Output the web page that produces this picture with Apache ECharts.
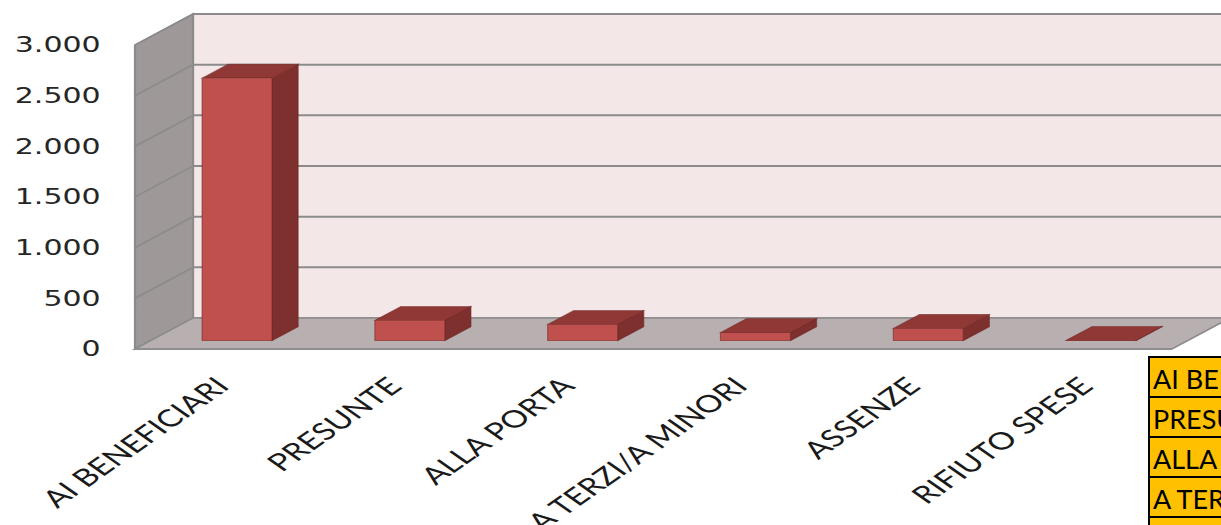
<!DOCTYPE html>
<html><head><meta charset="utf-8">
<script src="https://cdn.jsdelivr.net/npm/echarts@6/dist/echarts.min.js"></script>
<style>
html,body{margin:0;padding:0;background:#fff;overflow:hidden;}
#wrap{width:1221px;height:525px;overflow:hidden;position:relative;background:#fff;}
#chart{width:854px;height:525px;transform:scaleX(1.42974);transform-origin:0 0;}
</style></head><body>
<div id="wrap"><div id="chart"></div></div>
<script>
// ---- data ----
const categories = ['AI BENEFICIARI','PRESUNTE','ALLA PORTA','A TERZI/A MINORI','ASSENZE','RIFIUTO SPESE'];
const values = [2590, 200, 160, 80, 120, 3];
const yTicks = [0, 500, 1000, 1500, 2000, 2500, 3000];
const tableRows = categories;

// ---- layout / style constants ----
const S = 1221 / 854;          // horizontal stretch of the reference picture
const DX = 40.6, DY = -31;     // 3D depth offset (pre-stretch px)
const F0 = 0.27, F1 = 0.72;    // bar depth span
const yMax = yTicks[yTicks.length - 1];

function fmt(v){ return String(v).replace(/\B(?=(\d{3})+(?!\d))/g, '.'); }

const chart = echarts.init(document.getElementById('chart'), null, {renderer:'svg'});

function wallsItem(params, api){
  const n = categories.length;
  const bw = api.size([1, 0])[0];
  const L = api.coord([0, 0])[0] - bw / 2;
  const R = api.coord([n - 1, 0])[0] + bw / 2;
  const y = v => api.coord([0, v])[1];
  const y0 = y(0), yT = y(yMax);
  const grid = '#8B8B8B';
  const ch = [];
  ch.push({type:'polygon', shape:{points:[[L+DX,yT+DY],[R+DX,yT+DY],[R+DX,y0+DY],[L+DX,y0+DY]]},
    style:{fill:'#F3E7E7', stroke:grid, lineWidth:1.5}});
  ch.push({type:'polygon', shape:{points:[[L,y0],[L+DX,y0+DY],[L+DX,yT+DY],[L,yT]]},
    style:{fill:'#9E9898', stroke:grid, lineWidth:1.5}});
  ch.push({type:'polygon', shape:{points:[[L,y0],[R,y0],[R+DX,y0+DY],[L+DX,y0+DY]]},
    style:{fill:'#B8B0B0', stroke:grid, lineWidth:1.5}});
  yTicks.forEach(v => {
    if (v === 0) return;
    const yy = y(v);
    ch.push({type:'line', shape:{x1:L+DX, y1:yy+DY, x2:R+DX, y2:yy+DY}, style:{stroke:grid, lineWidth:2}});
    ch.push({type:'line', shape:{x1:L, y1:yy, x2:L+DX, y2:yy+DY}, style:{stroke:grid, lineWidth:1.5}});
  });
  ch.push({type:'line', shape:{x1:L, y1:y0, x2:R, y2:y0}, style:{stroke:'#8E8E8E', lineWidth:2}});
  return {type:'group', children:ch};
}

function barItem(params, api){
  const idx = api.value(0), v = api.value(1);
  const cx = api.coord([idx, 0])[0];
  const y0 = api.coord([idx, 0])[1];
  const yt = api.coord([idx, v])[1];
  const w = api.size([1, 0])[0] * 0.405;
  const ox = F0 * DX, oy = F0 * DY;
  const ddx = (F1 - F0) * DX, ddy = (F1 - F0) * DY;
  const xl = cx - w / 2 + ox, xr = xl + w;
  const yb = y0 + oy, ytop = yt + oy;
  const edge = 'rgba(110,35,33,0.55)';
  return {type:'group', children:[
    {type:'polygon', shape:{points:[[xr,ytop],[xr+ddx,ytop+ddy],[xr+ddx,yb+ddy],[xr,yb]]},
      style:{fill:'#7E302E', stroke:edge, lineWidth:0.8}},
    {type:'polygon', shape:{points:[[xl,ytop],[xr,ytop],[xr+ddx,ytop+ddy],[xl+ddx,ytop+ddy]]},
      style:{fill:'#8F3836', stroke:edge, lineWidth:0.8}},
    {type:'rect', shape:{x:xl, y:ytop, width:w, height:Math.max(yb - ytop, 0)},
      style:{fill:'#C0504D', stroke:edge, lineWidth:0.8}}
  ]};
}

const tableEls = [];
tableRows.forEach((t, i) => {
  tableEls.push({type:'rect', shape:{x:0, y:357 + 40 * i, width:140, height:40},
    style:{fill:'#FFC000', stroke:'#000', lineWidth:2}});
  tableEls.push({type:'text', x:4, y:357 + 40 * i + 21,
    style:{text:t, fill:'#000', font:'27px Lato', verticalAlign:'middle', align:'left'}});
});

chart.setOption({
  animation:false,
  backgroundColor:'#fff',
  grid:{left:94.4, right:34.4, top:45, bottom:176, containLabel:false, outerBoundsMode:'none'},
  xAxis:{type:'category', data:categories,
    axisLine:{show:false}, axisTick:{show:false}, splitLine:{show:false},
    axisLabel:{interval:0, rotate:45, margin:32, fontFamily:'Lato', fontSize:24, color:'#1a1a1a'}},
  yAxis:{type:'value', min:0, max:yMax, interval:500,
    axisLine:{show:false}, axisTick:{show:false}, splitLine:{show:false},
    axisLabel:{margin:24, fontFamily:'DejaVu Sans', fontSize:21, color:'#262626', formatter:fmt}},
  series:[
    {type:'custom', name:'walls', renderItem:wallsItem, data:[[0,0]], z:1, silent:true},
    {type:'custom', name:'valori', renderItem:barItem, data:values.map((v,i)=>[i,v]), z:2,
      encode:{x:0, y:1}}
  ],
  graphic:{elements:[{type:'group', x:1149 / S, y:0, scaleX:1 / S, z:10, children:tableEls}]}
});
</script>
</body></html>
